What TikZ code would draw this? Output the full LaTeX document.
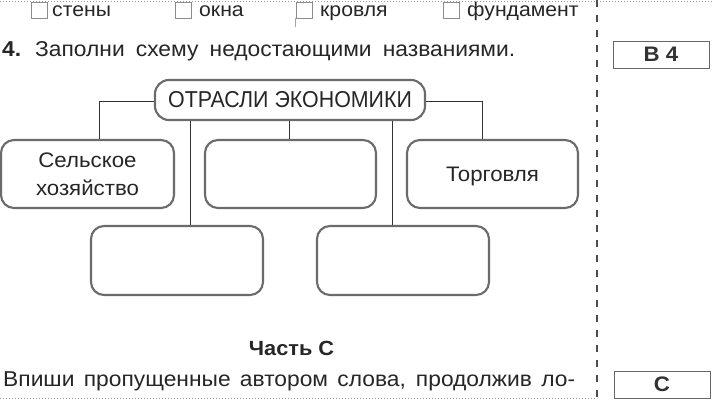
\documentclass[tikz,border=0pt]{standalone}
\usepackage{fontspec}
\setmainfont{Liberation Sans}[FakeStretch=1.06]
\newfontfamily\titlefont{Liberation Sans}[FakeStretch=0.93]
\begin{document}
\begin{tikzpicture}[x=1pt,y=-1pt,
  txt/.style={inner sep=0pt, anchor=base west, text=black!85, font=\fontsize{20}{24}\selectfont},
  bigtxt/.style={txt, font=\fontsize{21.5}{24}\selectfont},
  rbox/.style={draw=black!58, line width=2.1pt, rounded corners=13pt, inner sep=0pt,
    align=center, text=black!85, font=\fontsize{21}{28}\selectfont},
  conn/.style={draw=black!80, line width=0.8pt},
  chk/.style={draw=black!45, line width=0.6pt, minimum size=16pt, inner sep=0pt},
  tagbox/.style={draw=black!60, line width=0.9pt, minimum width=96pt, minimum height=27pt,
    inner sep=0pt, text=black!80, font=\fontsize{21}{24}\selectfont\bfseries},
  dotline/.style={draw=black!40, line width=0.6pt, dash pattern=on 1pt off 2pt},
  sepline/.style={draw=black!70, line width=1.5pt, dash pattern=on 7pt off 8pt}]
\fill[white] (0,0) rectangle (712,401);
\useasboundingbox (0,0) rectangle (712,401);

% top dotted line and bottom dotted line
\coordinate (tl) at (0,1); \coordinate (tr) at (712,1);
\draw[dotline] (tl) -- (tr);
\coordinate (bl) at (0,398); \coordinate (br) at (597,398);
\draw[dotline] (bl) -- (br);

% vertical dashed separator
\coordinate (st) at (597,0); \coordinate (sb) at (597,401);
\draw[sepline] (st) -- (sb);

% checkboxes row
\node[chk] (c1) at (39,10) {};
\node[chk] (c2) at (183,10) {};
\node[chk] (c3) at (304,10) {};
\node[chk] (c4) at (451,10) {};
\coordinate (t1) at (295,18); \coordinate (t2) at (295,27);
\draw[black!35, line width=0.5pt] (t1) -- (t2);
\node[txt] (w1) at (52,17) {стены};
\node[txt] (w2) at (199,17) {окна};
\node[txt] (w3) at (320,17) {кровля};
\node[txt] (w4) at (467,17) {фундамент};

% task line
\node[bigtxt, font=\fontsize{21.5}{24}\selectfont\bfseries] (n4) at (2,57) {4.};
\node[bigtxt] (task) at (35,57) {\makebox[480pt][s]{Заполни схему недостающими названиями.}};
\node[tagbox] (b4) at (661,54.5) {В 4};

% diagram
\node[rbox, minimum width=270pt, minimum height=40pt, rounded corners=14pt,
      font=\titlefont\fontsize{23}{24}\selectfont] (main) at (290,100) {ОТРАСЛИ ЭКОНОМИКИ};
\node[rbox, minimum width=173pt, minimum height=68pt] (agri) at (87.5,174) {Сельское\\хозяйство};
\node[rbox, minimum width=171pt, minimum height=68pt] (mid) at (290.5,174) {};
\node[rbox, minimum width=171pt, minimum height=68pt, text depth=0pt] (trade) at (492.5,174) {Торговля};
\node[rbox, minimum width=172pt, minimum height=69pt] (b1) at (177,260.5) {};
\node[rbox, minimum width=172pt, minimum height=69pt] (b2) at (403,260.5) {};

\coordinate (v1) at (190,0);
\coordinate (v2) at (289,0);
\coordinate (v3) at (392,0);
\draw[conn] ([yshift=-1pt]main.west) -| ([xshift=11.5pt]agri.north);
\draw[conn] ([yshift=-1pt]main.east) -| ([xshift=-10.5pt]trade.north);
\draw[conn] (main.south -| v1) -- (b1.north -| v1);
\draw[conn] (main.south -| v2) -- (mid.north -| v2);
\draw[conn] (main.south -| v3) -- (b2.north -| v3);

% part C
\node[txt, anchor=base, font=\fontsize{20.5}{24}\selectfont\bfseries] (partc) at (291.5,355) {Часть С};
\node[bigtxt] (last) at (3,386) {\makebox[572pt][s]{Впиши пропущенные автором слова, продолжив ло-}};
\node[tagbox] (cbox) at (662,384.5) {С};
\end{tikzpicture}
\end{document}
